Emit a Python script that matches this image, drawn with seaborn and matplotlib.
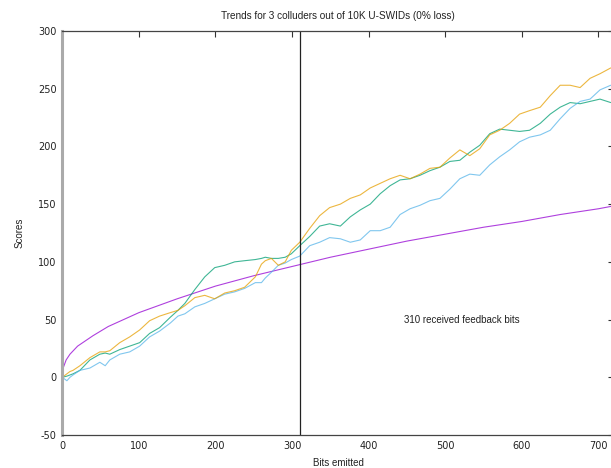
import numpy as np
import pandas as pd
import seaborn as sns
import matplotlib.pyplot as plt

# values
bits = [0, 6, 10, 14, 23, 36, 49, 56, 62, 75, 88, 101, 114, 127, 141, 151, 160, 173, 186,
        199, 212, 225, 238, 252, 260, 265, 273, 282, 291, 299, 310, 323, 336, 349, 363, 376,
        389, 402, 415, 428, 441, 454, 467, 480, 493, 506, 519, 532, 545, 558, 571, 584,
        597, 610, 624, 637, 650, 663, 676, 689, 702, 716]

orange_scores = [0, 3, 5, 6, 10, 17, 22, 22, 23, 30, 35, 41, 49, 53, 56, 58, 62, 69, 71,
                 68, 73, 75, 78, 87, 98, 101, 103, 97, 100, 110, 117, 129, 140, 147, 150, 155,
                 158, 164, 168, 172, 175, 172, 176, 181, 182, 190, 197, 192, 198, 210, 214, 220,
                 228, 231, 234, 244, 253, 253, 251, 259, 263, 268]

green_scores = [0, 1, 2, 3, 6, 15, 20, 21, 20, 24, 27, 30, 38, 43, 52, 58, 64, 76, 87,
                95, 97, 100, 101, 102, 103, 104, 103, 103, 104, 107, 114, 122, 131, 133, 131, 139,
                145, 150, 159, 166, 171, 172, 175, 179, 182, 187, 188, 195, 201, 211, 215, 214,
                213, 214, 220, 228, 234, 238, 237, 239, 241, 238]

blue_scores = [0, -3, 0, 2, 6, 8, 13, 10, 15, 20, 22, 27, 35, 40, 47, 53, 55, 61, 64,
               68, 72, 74, 77, 82, 82, 86, 91, 97, 99, 102, 105, 114, 117, 121, 120, 117,
               119, 127, 127, 130, 141, 146, 149, 153, 155, 163, 172, 176, 175, 184, 191, 197,
               204, 208, 210, 214, 224, 233, 239, 241, 249, 253]

purple_bits = [0, 5, 10, 20, 40, 60, 80, 100, 150, 200, 250, 300, 350, 400, 450, 500,
               550, 600, 650, 700, 716]
purple_scores = [6, 15, 20, 27, 36, 44, 50, 56, 68, 79, 88, 96, 104, 111, 118, 124,
                 130, 135, 141, 146, 148]

feedback_bits = 310

sns.set_theme(style="white")
plt.rcParams['font.family'] = ['DejaVu Sans']
plt.rcParams['axes.unicode_minus'] = False

fig = plt.figure(figsize=(6.11, 4.68), dpi=100)
ax = fig.add_axes([62.3 / 611, 33 / 468, 551.5 / 611, 404 / 468])

df_purple = pd.DataFrame({"bits": purple_bits, "score": purple_scores})
sns.lineplot(data=df_purple, x="bits", y="score", color="#9400D3", lw=0.8, alpha=0.75, ax=ax)

df = pd.DataFrame({"bits": bits, "green": green_scores, "blue": blue_scores, "orange": orange_scores})
sns.lineplot(data=df, x="bits", y="green", color="#009E73", lw=0.8, alpha=0.75, ax=ax)
sns.lineplot(data=df, x="bits", y="blue", color="#56B4E9", lw=0.8, alpha=0.75, ax=ax)
sns.lineplot(data=df, x="bits", y="orange", color="#E69F00", lw=0.8, alpha=0.75, ax=ax)

ax.axvline(feedback_bits, color="#222222", lw=0.9)
ax.text(446, 50, "310 received feedback bits", fontsize=7, family="Liberation Sans",
        color="#222222", va="center", ha="left")

ax.set_xlim(0, 720)
ax.set_ylim(-50, 300)
ax.set_xticks(range(0, 701, 100))
ax.set_yticks(range(-50, 301, 50))
ax.tick_params(direction="in", length=4, width=0.8, color="#333333", labelsize=7,
               labelcolor="#222222", top=True, right=True, pad=4)

for side in ["top", "bottom", "right"]:
    ax.spines[side].set_color("#444444")
    ax.spines[side].set_linewidth(0.9)
ax.spines["left"].set_color("#aaaaaa")
ax.spines["left"].set_linewidth(2.2)

ax.set_xlabel("Bits emitted", fontsize=7, family="Liberation Sans", color="#222222", labelpad=5)
ax.set_ylabel("Scores", fontsize=7, family="Liberation Sans", color="#222222", labelpad=10)
fig.text(338 / 611, 1 - 16 / 468, "Trends for 3 colluders out of 10K U-SWIDs (0% loss)",
         fontsize=7.2, family="Liberation Sans", color="#222222", ha="center", va="center")

fig.savefig("out.png", dpi=100)
